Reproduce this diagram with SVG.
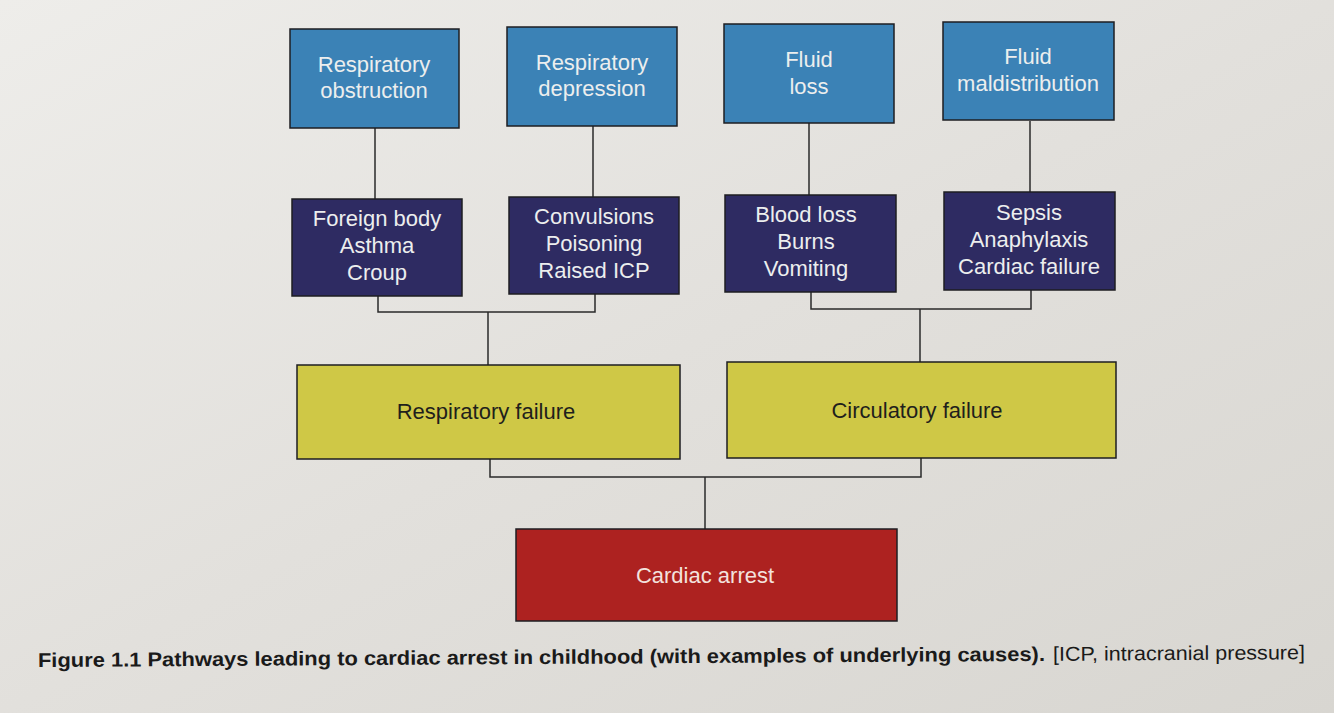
<svg xmlns="http://www.w3.org/2000/svg" width="1334" height="713" viewBox="0 0 1334 713">
<defs>
<linearGradient id="bg" x1="0" y1="0" x2="1" y2="1">
<stop offset="0" stop-color="#eeedea"/>
<stop offset="0.5" stop-color="#e2e0dc"/>
<stop offset="1" stop-color="#d8d6d1"/>
</linearGradient>
<style>
.box{stroke:#1e1e22;stroke-width:1.5}
.cause{fill:#3b82b6}
.ex{fill:#2e2b62}
.fail{fill:#cfc846}
.arrest{fill:#ad2220}
.t{font-family:"Liberation Sans",Arial,sans-serif;font-size:22px;text-anchor:middle}
.lt{fill:#eceeee}
.dk{fill:#1f1f1c}
.conn{fill:none;stroke:#2a2a2a;stroke-width:1.5}
.cap{font-family:"Liberation Sans",Arial,sans-serif;font-size:20px;fill:#1a1a1a}
</style>
</defs>
<rect x="0" y="0" width="1334" height="713" fill="url(#bg)"/>
<g id="connectors">
<line class="conn" x1="375" y1="128" x2="375" y2="199"/>
<line class="conn" x1="593" y1="126" x2="593" y2="197"/>
<line class="conn" x1="809" y1="123" x2="809" y2="195"/>
<line class="conn" x1="1030" y1="121" x2="1030" y2="193"/>
<polyline class="conn" points="378,296 378,312 595,312 595,294"/>
<line class="conn" x1="488" y1="312" x2="488" y2="365"/>
<polyline class="conn" points="811,292 811,309 1031,309 1031,290"/>
<line class="conn" x1="920" y1="309" x2="920" y2="362"/>
<polyline class="conn" points="490,459 490,477 921,477 921,458"/>
<line class="conn" x1="705" y1="477" x2="705" y2="529"/>
</g>
<g id="respiratory-obstruction">
<rect class="box cause" x="290" y="29" width="169" height="99"/>
<text class="t lt" x="374" y="72">Respiratory</text>
<text class="t lt" x="374" y="98">obstruction</text>
</g>
<g id="respiratory-depression">
<rect class="box cause" x="507" y="27" width="170" height="99"/>
<text class="t lt" x="592" y="70">Respiratory</text>
<text class="t lt" x="592" y="96">depression</text>
</g>
<g id="fluid-loss">
<rect class="box cause" x="724" y="24" width="170" height="99"/>
<text class="t lt" x="809" y="67">Fluid</text>
<text class="t lt" x="809" y="94">loss</text>
</g>
<g id="fluid-maldistribution">
<rect class="box cause" x="943" y="22" width="171" height="98"/>
<text class="t lt" x="1028" y="64">Fluid</text>
<text class="t lt" x="1028" y="91">maldistribution</text>
</g>
<g id="resp-obstruction-examples">
<rect class="box ex" x="292" y="199" width="170" height="97"/>
<text class="t lt" x="377" y="226">Foreign body</text>
<text class="t lt" x="377" y="253">Asthma</text>
<text class="t lt" x="377" y="280">Croup</text>
</g>
<g id="resp-depression-examples">
<rect class="box ex" x="509" y="197" width="170" height="97"/>
<text class="t lt" x="594" y="224">Convulsions</text>
<text class="t lt" x="594" y="251">Poisoning</text>
<text class="t lt" x="594" y="278">Raised ICP</text>
</g>
<g id="fluid-loss-examples">
<rect class="box ex" x="725" y="195" width="171" height="97"/>
<text class="t lt" x="806" y="222">Blood loss</text>
<text class="t lt" x="806" y="249">Burns</text>
<text class="t lt" x="806" y="276">Vomiting</text>
</g>
<g id="fluid-maldistribution-examples">
<rect class="box ex" x="944" y="192" width="171" height="98"/>
<text class="t lt" x="1029" y="220">Sepsis</text>
<text class="t lt" x="1029" y="247">Anaphylaxis</text>
<text class="t lt" x="1029" y="274">Cardiac failure</text>
</g>
<g id="respiratory-failure">
<rect class="box fail" x="297" y="365" width="383" height="94"/>
<text class="t dk" x="486" y="419">Respiratory failure</text>
</g>
<g id="circulatory-failure">
<rect class="box fail" x="727" y="362" width="389" height="96"/>
<text class="t dk" x="917" y="418">Circulatory failure</text>
</g>
<g id="cardiac-arrest">
<rect class="box arrest" x="516" y="529" width="381" height="92"/>
<text class="t" x="705" y="583" fill="#f3e2de">Cardiac arrest</text>
</g>
<g id="caption" transform="rotate(-0.35 38 667)">
<text class="cap" x="38" y="667"><tspan font-weight="bold" textLength="1007" lengthAdjust="spacingAndGlyphs">Figure 1.1  Pathways leading to cardiac arrest in childhood (with examples of underlying causes).</tspan><tspan x="1053" textLength="252" lengthAdjust="spacingAndGlyphs">[ICP, intracranial pressure]</tspan></text>
</g>
</svg>
